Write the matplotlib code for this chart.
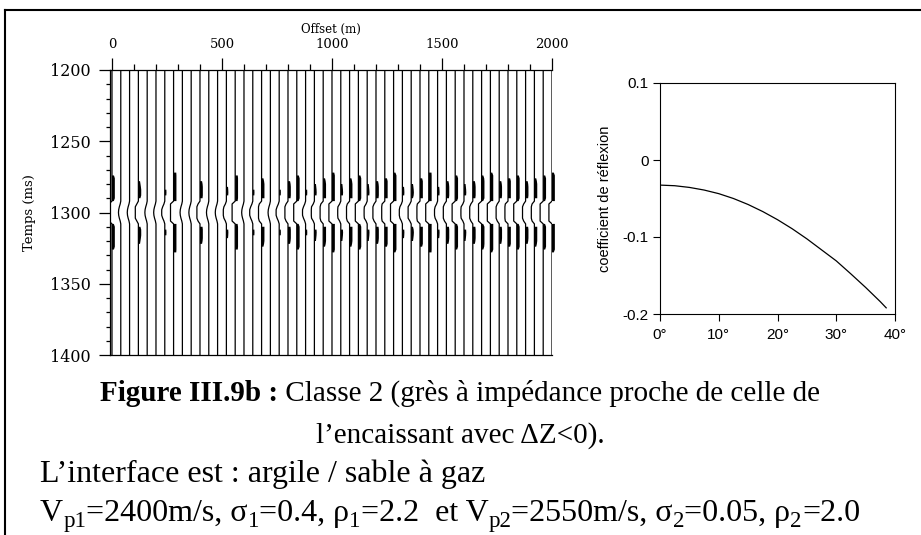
import numpy as np
import matplotlib
matplotlib.use("Agg")
import matplotlib.pyplot as plt
from matplotlib.lines import Line2D
from matplotlib.ticker import FixedLocator

# ---------------- data ----------------
# trace offsets (m)
offsets = list(range(0, 2001, 40))
# relative amplitude of each trace (read from the strength of the black lobes)
trace_amp = [10, 1.5, 1.5, 4, 1.5, 1.5, 2.2, 25, 1.5, 1.5,
             5, 1.5, 1.5, 2.6, 13, 1.5, 2.2, 6, 1.5, 2.2,
             5, 10, 2.2, 3, 6, 21, 3, 6, 10, 3,
             5, 7, 17, 2.6, 3.5, 7, 25, 2.6, 5, 10,
             3, 5, 8.5, 17, 5, 7, 10, 5, 6, 10, 17]
# wavelet shape (time relative to the event in ms, normalised amplitude)
wav_t = [-32, -30, -28, -26, -24, -22, -20, -18, -16, -14, -12, -10, -8, -6, -4, -2,
         0, 2, 4, 6, 8, 10, 12, 14, 16, 18, 20, 22, 24, 26, 28, 30, 32]
wav_v = [0.0, 0.03, 0.07, 0.13, 0.20, 0.27, 0.34, 0.41, 0.47, 0.50, 0.46, 0.33, 0.12, -0.25, -0.62, -0.90,
         -1.0, -0.90, -0.62, -0.25, 0.12, 0.33, 0.46, 0.50, 0.47, 0.41, 0.34, 0.27, 0.20, 0.13, 0.07, 0.03, 0.0]
event_time = 1300

# reflection coefficient vs angle
angles = [0, 2.5, 5, 7.5, 10, 12.5, 15, 17.5, 20, 22.5, 25, 27.5, 30, 32.5, 35, 37.5, 38.5]
refl = [-0.0326, -0.0334, -0.0356, -0.0390, -0.0437, -0.0500, -0.0578, -0.0670, -0.0775,
        -0.0893, -0.1024, -0.1167, -0.1310, -0.1480, -0.1655, -0.1840, -0.1920]

x_ticks = [0, 500, 1000, 1500, 2000]
y_ticks = [1200, 1250, 1300, 1350, 1400]
ang_ticks = [0, 10, 20, 30, 40]
ang_labels = ["0°", "10°", "20°", "30°", "40°"]
r_ticks = [-0.2, -0.1, 0, 0.1]
r_labels = ["-0.2", "-0.1", "0", "0.1"]

# parameter line: (text, is_subscript)
param_pieces = [("V", 0), ("p1", 1), ("=2400m/s, σ", 0), ("1", 1), ("=0.4, ρ", 0), ("1", 1),
                ("=2.2  et V", 0), ("p2", 1), ("=2550m/s, σ", 0), ("2", 1),
                ("=0.05, ρ", 0), ("2", 1), ("=2.0", 0)]

# ---------------- figure ----------------
W, H = 921, 535
fig = plt.figure(figsize=(W / 100, H / 100), dpi=100)

def fx(px):
    return px / W

def fy(py):
    return 1 - py / H

# ---- seismic gather ----
ax = fig.add_axes([fx(110), fy(355), fx(552) - fx(110), fy(70) - fy(355)])
ax.set_xlim(-9, 2000)
ax.set_ylim(1400, 1200)

k = 7.0          # metres of deflection per amplitude unit
thr = 7.0        # fill threshold (m)
clip_pos = 13.0
clip_neg = 14.0
wt = np.array(wav_t, dtype=float)
wv = np.array(wav_v, dtype=float)
for x0, a in zip(offsets, trace_amp):
    d = k * a * wv
    d = np.clip(d, -clip_neg, clip_pos)
    tt = event_time + wt
    xl = x0 + np.minimum(d, 0)
    ax.plot(np.concatenate([[x0], xl, [x0]]),
            np.concatenate([[1200], tt, [1400]]),
            color="black", lw=0.9, solid_capstyle="butt")
    ax.fill_betweenx(tt, x0, x0 + d, where=d > thr, color="black", lw=0, clip_on=False)

serif = "DejaVu Serif"
ax.xaxis.tick_top()
ax.xaxis.set_label_position("top")
ax.xaxis.set_major_locator(FixedLocator(x_ticks))
ax.xaxis.set_minor_locator(FixedLocator(list(range(100, 2000, 100))))
ax.yaxis.set_major_locator(FixedLocator(y_ticks))
ax.yaxis.set_minor_locator(FixedLocator([v for v in range(1210, 1400, 10) if v % 50]))
ax.set_xticklabels([str(v) for v in x_ticks], family=serif, fontsize=9.5)
ax.set_yticklabels([str(v) for v in y_ticks], family=serif, fontsize=11.5)
ax.tick_params(axis="x", which="major", direction="out", length=8.6, width=0.9, pad=5)
ax.tick_params(axis="x", which="minor", direction="out", length=4.3, width=0.9)
ax.tick_params(axis="y", which="major", direction="out", length=8, width=0.9, pad=6)
ax.tick_params(axis="y", which="minor", direction="out", length=3.2, width=0.9)
ax.spines["right"].set_visible(False)
for s in ("top", "left", "bottom"):
    ax.spines[s].set_linewidth(0.9)
ax.set_xlabel("Offset (m)", family=serif, fontsize=8.5, labelpad=4)
fig.text(fx(29), fy(213), "Temps (ms)", rotation=90, ha="center", va="center",
         family=serif, fontsize=9.5)

# ---- reflection coefficient ----
ax2 = fig.add_axes([fx(660), fy(314), fx(895) - fx(660), fy(83) - fy(314)])
ax2.plot(angles, refl, color="black", lw=0.9)
ax2.set_xlim(0, 40)
ax2.set_ylim(-0.2, 0.1)
ax2.set_xticks(ang_ticks)
ax2.set_xticklabels(ang_labels, family="Liberation Sans", fontsize=11)
ax2.set_yticks(r_ticks)
ax2.set_yticklabels(r_labels, family="Liberation Sans", fontsize=11)
ax2.tick_params(axis="x", direction="out", length=5, width=0.8, pad=5)
ax2.tick_params(axis="y", direction="out", length=5, width=0.8, pad=3)
for s in ax2.spines.values():
    s.set_linewidth(0.8)
ax2.set_ylabel("coefficient de réflexion", family="Liberation Sans", fontsize=10.5, labelpad=8)

# ---- frame ----
fig.add_artist(Line2D([fx(5), fx(5)], [fy(9.5), 0], color="black", lw=1.5))
fig.add_artist(Line2D([fx(5), 1], [fy(9.5), fy(9.5)], color="black", lw=1.5))

# ---- caption ----
cap_font = "Liberation Serif"
cs = 21
bs = 23
r = fig.canvas.get_renderer()
t1 = fig.text(0, fy(401), "Figure III.9b :", family=cap_font, fontsize=cs,
              fontweight="bold", va="baseline")
t2 = fig.text(0, fy(401), " Classe 2 (grès à impédance proche de celle de",
              family=cap_font, fontsize=cs, va="baseline")
w1 = t1.get_window_extent(r).width
w2 = t2.get_window_extent(r).width
x_start = 460 - (w1 + w2) / 2
t1.set_x(fx(x_start))
t2.set_x(fx(x_start + w1))
fig.text(fx(460), fy(443), "l’encaissant avec ΔZ<0).", family=cap_font, fontsize=cs,
         ha="center", va="baseline")
fig.text(fx(40), fy(482), "L’interface est : argile / sable à gaz", family=cap_font,
         fontsize=bs, va="baseline")

xpos = 40.0
for txt, sub in param_pieces:
    size = bs * 0.72 if sub else bs
    ypix = 521 + (6 if sub else 0)
    t = fig.text(fx(xpos), fy(ypix), txt, family=cap_font, fontsize=size, va="baseline")
    xpos += t.get_window_extent(r).width

fig.savefig("out.png", dpi=100)
